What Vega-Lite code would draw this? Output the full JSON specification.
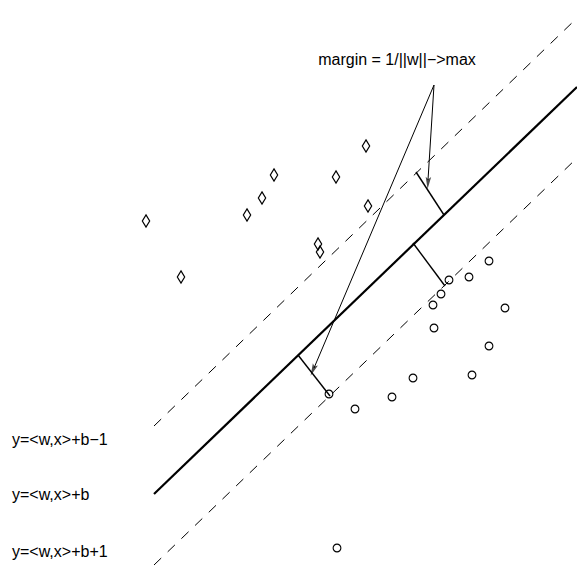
{
  "$schema": "https://vega.github.io/schema/vega-lite/v6.json",
  "width": 577,
  "height": 571,
  "padding": 0,
  "autosize": {"type": "none"},
  "background": "white",
  "config": {"view": {"stroke": null}},
  "datasets": {
    "lines": [
      {"id": "solid", "x": 154, "y": 494, "x2": 577, "y2": 87},
      {"id": "upper", "x": 154, "y": 426, "x2": 577, "y2": 18},
      {"id": "lower", "x": 154, "y": 565, "x2": 577, "y2": 158},
      {"id": "m1", "x": 416, "y": 172, "x2": 444, "y2": 215},
      {"id": "m2", "x": 413, "y": 243, "x2": 445, "y2": 286},
      {"id": "m3", "x": 298, "y": 355, "x2": 330, "y2": 396},
      {"id": "a1", "x": 434, "y": 85, "x2": 428, "y2": 180},
      {"id": "a2", "x": 434, "y": 85, "x2": 314, "y2": 368}
    ],
    "heads": [
      {"x": 428, "y": 183, "angle": 4},
      {"x": 313, "y": 370, "angle": 23}
    ],
    "diamonds": [
      {"x": 366, "y": 146}, {"x": 274, "y": 175}, {"x": 336, "y": 177},
      {"x": 262, "y": 198}, {"x": 247, "y": 215}, {"x": 146, "y": 221},
      {"x": 368, "y": 206}, {"x": 318, "y": 244}, {"x": 320, "y": 252},
      {"x": 181, "y": 277}
    ],
    "circles": [
      {"x": 489, "y": 261}, {"x": 469, "y": 277}, {"x": 449, "y": 280},
      {"x": 441, "y": 294}, {"x": 433, "y": 305}, {"x": 505, "y": 308},
      {"x": 434, "y": 328}, {"x": 489, "y": 346}, {"x": 413, "y": 378},
      {"x": 472, "y": 375}, {"x": 392, "y": 397}, {"x": 329, "y": 394},
      {"x": 355, "y": 409}, {"x": 337, "y": 548}
    ],
    "labels": [
      {"x": 397, "y": 60, "text": "margin = 1/||w||−>max", "anchor": "center"},
      {"x": 12, "y": 440, "text": "y=<w,x>+b−1", "anchor": "left"},
      {"x": 12, "y": 495, "text": "y=<w,x>+b", "anchor": "left"},
      {"x": 12, "y": 552, "text": "y=<w,x>+b+1", "anchor": "left"}
    ]
  },
  "layer": [
    {
      "data": {"name": "lines"},
      "transform": [{"filter": "datum.id === 'upper' || datum.id === 'lower'"}],
      "mark": {"type": "rule", "strokeDash": [10, 9], "strokeWidth": 1, "color": "black"},
      "encoding": {
        "x": {"field": "x", "type": "quantitative", "scale": {"domain": [0, 577]}, "axis": null},
        "y": {"field": "y", "type": "quantitative", "scale": {"domain": [0, 571], "reverse": true}, "axis": null},
        "x2": {"field": "x2"},
        "y2": {"field": "y2"}
      }
    },
    {
      "data": {"name": "lines"},
      "transform": [{"filter": "datum.id === 'solid'"}],
      "mark": {"type": "rule", "strokeWidth": 2.2, "color": "black"},
      "encoding": {
        "x": {"field": "x", "type": "quantitative", "scale": {"domain": [0, 577]}, "axis": null},
        "y": {"field": "y", "type": "quantitative", "scale": {"domain": [0, 571], "reverse": true}, "axis": null},
        "x2": {"field": "x2"},
        "y2": {"field": "y2"}
      }
    },
    {
      "data": {"name": "lines"},
      "transform": [{"filter": "datum.id[0] === 'm'"}],
      "mark": {"type": "rule", "strokeWidth": 1.4, "color": "black"},
      "encoding": {
        "x": {"field": "x", "type": "quantitative", "scale": {"domain": [0, 577]}, "axis": null},
        "y": {"field": "y", "type": "quantitative", "scale": {"domain": [0, 571], "reverse": true}, "axis": null},
        "x2": {"field": "x2"},
        "y2": {"field": "y2"}
      }
    },
    {
      "data": {"name": "lines"},
      "transform": [{"filter": "datum.id[0] === 'a'"}],
      "mark": {"type": "rule", "strokeWidth": 1, "color": "black"},
      "encoding": {
        "x": {"field": "x", "type": "quantitative", "scale": {"domain": [0, 577]}, "axis": null},
        "y": {"field": "y", "type": "quantitative", "scale": {"domain": [0, 571], "reverse": true}, "axis": null},
        "x2": {"field": "x2"},
        "y2": {"field": "y2"}
      }
    },
    {
      "data": {"name": "heads"},
      "mark": {"type": "point", "shape": "M0,1L-0.45,-1L0,-0.6L0.45,-1Z", "filled": true, "color": "black", "size": 150, "strokeWidth": 0},
      "encoding": {
        "x": {"field": "x", "type": "quantitative", "scale": {"domain": [0, 577]}, "axis": null},
        "y": {"field": "y", "type": "quantitative", "scale": {"domain": [0, 571], "reverse": true}, "axis": null},
        "angle": {"field": "angle", "type": "quantitative", "scale": null}
      }
    },
    {
      "data": {"name": "diamonds"},
      "mark": {"type": "point", "shape": "M0,-1L0.6,0L0,1L-0.6,0Z", "filled": false, "color": "black", "size": 150, "strokeWidth": 1.2, "opacity": 1},
      "encoding": {
        "x": {"field": "x", "type": "quantitative", "scale": {"domain": [0, 577]}, "axis": null},
        "y": {"field": "y", "type": "quantitative", "scale": {"domain": [0, 571], "reverse": true}, "axis": null}
      }
    },
    {
      "data": {"name": "circles"},
      "mark": {"type": "point", "shape": "circle", "filled": false, "color": "black", "size": 60, "strokeWidth": 1.1, "opacity": 1},
      "encoding": {
        "x": {"field": "x", "type": "quantitative", "scale": {"domain": [0, 577]}, "axis": null},
        "y": {"field": "y", "type": "quantitative", "scale": {"domain": [0, 571], "reverse": true}, "axis": null}
      }
    },
    {
      "data": {"name": "labels"},
      "transform": [{"filter": "datum.anchor === 'center'"}],
      "mark": {"type": "text", "align": "center", "baseline": "middle", "font": "Liberation Sans", "fontSize": 16, "color": "black"},
      "encoding": {
        "x": {"field": "x", "type": "quantitative", "scale": {"domain": [0, 577]}, "axis": null},
        "y": {"field": "y", "type": "quantitative", "scale": {"domain": [0, 571], "reverse": true}, "axis": null},
        "text": {"field": "text"}
      }
    },
    {
      "data": {"name": "labels"},
      "transform": [{"filter": "datum.anchor === 'left'"}],
      "mark": {"type": "text", "align": "left", "baseline": "middle", "font": "Liberation Sans", "fontSize": 16, "color": "black"},
      "encoding": {
        "x": {"field": "x", "type": "quantitative", "scale": {"domain": [0, 577]}, "axis": null},
        "y": {"field": "y", "type": "quantitative", "scale": {"domain": [0, 571], "reverse": true}, "axis": null},
        "text": {"field": "text"}
      }
    }
  ]
}
